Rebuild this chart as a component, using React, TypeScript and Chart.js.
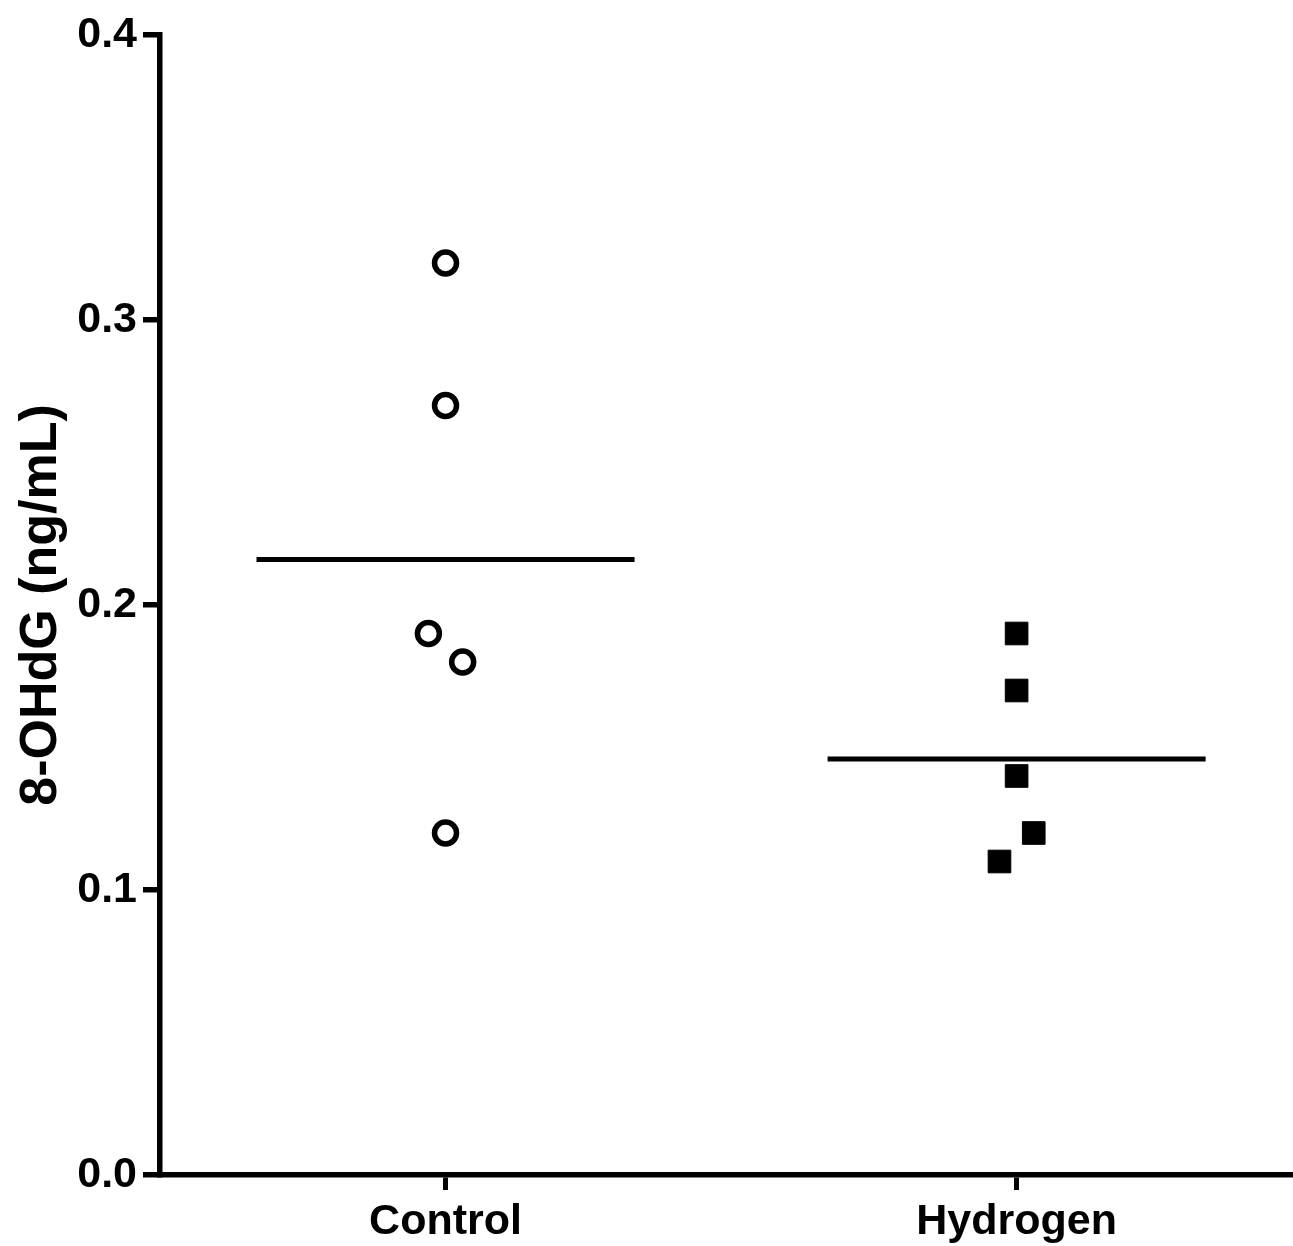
import React, { useEffect, useRef } from "react";
import { Chart, registerables } from "chart.js";

Chart.register(...registerables);

const categories = ["Control", "Hydrogen"];
const controlValues = [0.32, 0.27, 0.19, 0.18, 0.12];
const controlJitter = [0, 0, -0.03, 0.03, 0];
const hydrogenValues = [0.19, 0.17, 0.14, 0.12, 0.11];
const hydrogenJitter = [0, 0, 0, 0.03, -0.03];
const means = [0.216, 0.146];
const yTicks = [0, 0.1, 0.2, 0.3, 0.4];
const yTitle = "8-OHdG (ng/mL)";

const FONT = "'Liberation Sans', Arial, Helvetica, sans-serif";

export default function App() {
  const ref = useRef<HTMLCanvasElement | null>(null);

  useEffect(() => {
    if (!ref.current) return;
    const meanHalf = 0.331;
    const chart = new Chart(ref.current, {
      type: "scatter",
      data: {
        datasets: [
          {
            label: "Control mean",
            type: "line",
            data: [
              { x: 0 - meanHalf, y: means[0] },
              { x: 0 + meanHalf, y: means[0] },
            ],
            borderColor: "#000",
            borderWidth: 5,
            pointRadius: 0,
            showLine: true,
          },
          {
            label: "Hydrogen mean",
            type: "line",
            data: [
              { x: 1 - meanHalf, y: means[1] },
              { x: 1 + meanHalf, y: means[1] },
            ],
            borderColor: "#000",
            borderWidth: 5,
            pointRadius: 0,
            showLine: true,
          },
          {
            label: categories[0],
            data: controlValues.map((v, i) => ({ x: 0 + controlJitter[i], y: v })),
            pointStyle: "circle",
            pointRadius: 11,
            pointBorderWidth: 5.5,
            borderWidth: 5.5,
            pointBorderColor: "#000",
            borderColor: "#000",
            pointBackgroundColor: "#fff",
            backgroundColor: "#fff",
          },
          {
            label: categories[1],
            data: hydrogenValues.map((v, i) => ({ x: 1 + hydrogenJitter[i], y: v })),
            pointStyle: "rect",
            pointRadius: 16,
            pointBorderWidth: 1,
            borderWidth: 1,
            pointBorderColor: "#000",
            borderColor: "#000",
            pointBackgroundColor: "#000",
            backgroundColor: "#000",
          },
        ],
      },
      options: {
        responsive: false,
        animation: false,
        layout: { autoPadding: false, padding: { top: 35, right: 0, left: 0, bottom: 0 } },
        plugins: {
          legend: { display: false },
          tooltip: { enabled: false },
        },
        scales: {
          x: {
            type: "linear",
            min: -0.5,
            max: 1.484,
            afterBuildTicks: (s: any) => {
              s.ticks = categories.map((_, i) => ({ value: i }));
            },
            afterFit: (s: any) => {
              s.height = 71;
              s.paddingLeft = 0;
              s.paddingRight = 0;
            },
            ticks: {
              callback: (v: any) => categories[Math.round(Number(v))] ?? "",
              color: "#000",
              font: { family: FONT, size: 43, weight: "bold" },
              padding: 6,
              maxRotation: 0,
              autoSkip: false,
            },
            grid: {
              display: true,
              drawOnChartArea: false,
              drawTicks: true,
              tickLength: 15,
              color: "#000",
              lineWidth: 5,
            },
            border: { display: true, color: "#000", width: 5.5 },
          },
          y: {
            type: "linear",
            min: 0,
            max: 0.4,
            afterBuildTicks: (s: any) => {
              s.ticks = yTicks.map((v) => ({ value: v }));
            },
            afterFit: (s: any) => {
              s.width = 160;
              s.paddingTop = 0;
              s.paddingBottom = 0;
            },
            ticks: {
              callback: (v: any) => Number(v).toFixed(1),
              color: "#000",
              font: { family: FONT, size: 43, weight: "bold" },
              padding: 6,
            },
            grid: {
              display: true,
              drawOnChartArea: false,
              drawTicks: true,
              tickLength: 17,
              color: "#000",
              lineWidth: 5.5,
            },
            border: { display: true, color: "#000", width: 5.5 },
            title: {
              display: true,
              text: yTitle,
              color: "#000",
              font: { family: FONT, size: 52, weight: "bold" },
              padding: { top: 10, bottom: 0 },
            },
          },
        },
      },
    } as any);
    return () => chart.destroy();
  }, []);

  return (
    <div style={{ position: "absolute", left: 0, top: 0, width: 1293, height: 1246, background: "#fff" }}>
      <canvas ref={ref} width={1293} height={1246} />
    </div>
  );
}
